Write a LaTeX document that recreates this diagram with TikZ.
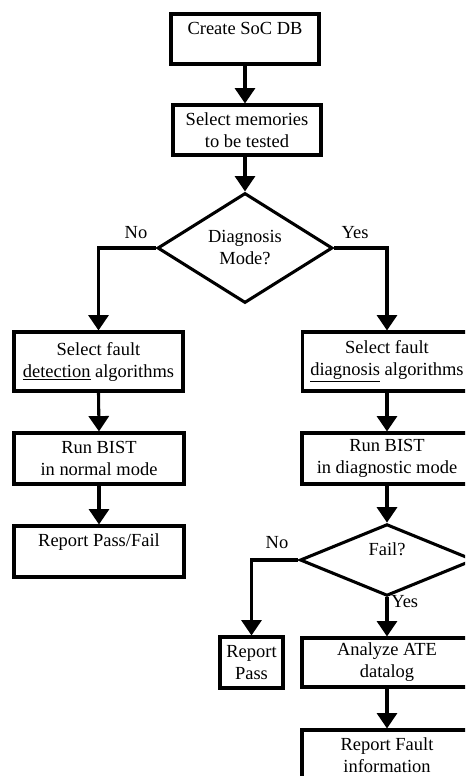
\documentclass[tikz,border=0pt]{standalone}
\usepackage{fontspec}
\setmainfont{Liberation Serif}
\usetikzlibrary{shapes.geometric,arrows.meta}
\begin{document}
\begin{tikzpicture}[x=0.65pt,y=-0.65pt,
  every node/.style={font=\fontsize{12}{14.3}\selectfont},
  box/.style={draw,line width=2pt,rectangle,align=center,inner sep=0pt},
  dec/.style={draw,line width=2pt,diamond,align=center,inner sep=0pt},
  lbl/.style={inner sep=0pt},
  arr/.style={line width=2pt,-{Triangle[width=13pt,length=10pt]}}]
\useasboundingbox (0,0) rectangle (465,776);
\clip (0,0) rectangle (465,776);

% main column
\node[box,minimum width=148*0.65pt,minimum height=50*0.65pt] (b1) at (245,39) {Create SoC DB\\\mbox{}};
\node[box,minimum width=148*0.65pt,minimum height=50*0.65pt] (b2) at (247,130) {Select memories\\to be tested};
\node[dec,minimum width=175*0.65pt,minimum height=110*0.65pt] (d1) at (245,248) {Diagnosis\\Mode?};

% detection branch
\node[box,minimum width=169*0.65pt,minimum height=59*0.65pt] (b3) at (98.5,361.5) {Select fault\\\underline{detection} algorithms};
\node[box,minimum width=170*0.65pt,minimum height=51*0.65pt] (b5) at (99,458.5) {Run BIST\\in normal mode};
\node[box,minimum width=170*0.65pt,minimum height=51*0.65pt] (b6) at (99,551.5) {Report Pass/Fail\\\mbox{}};

% diagnosis branch
\node[box,minimum width=169*0.65pt,minimum height=59*0.65pt] (b4) at (387,361.5) {Select fault\\\underline{diagnosis} algorithms};
\node[box,minimum width=170*0.65pt,minimum height=51*0.65pt] (b7) at (387,458.5) {Run BIST\\in diagnostic mode};
\node[dec,minimum width=174*0.65pt,minimum height=66*0.65pt] (d2) at (387,560) {Fail?\\\mbox{}};
\node[box,minimum width=63*0.65pt,minimum height=51*0.65pt] (b8) at (251.5,662.5) {Report\\Pass};
\node[box,minimum width=170*0.65pt,minimum height=49*0.65pt] (b9) at (387,662.5) {Analyze ATE\\datalog};
\node[box,minimum width=170*0.65pt,minimum height=50*0.65pt] (b10) at (387,755) {Report Fault\\information};

% branch labels
\node[lbl] (n1) at (136,233) {No};
\node[lbl] (y1) at (355,233) {Yes};
\node[lbl] (n2) at (277,543) {No};
\node[lbl,anchor=west] (y2) at (391,602) {Yes};

% connectors
\draw[arr] (b1.south) -- (b1.south |- b2.north);
\draw[arr] (b2.south -| d1.north) -- (d1.north);
\draw[arr] (d1.west) -| (b3.north);
\draw[arr] (d1.east) -| (b4.north);
\draw[arr] (b3.south) -- (b5.north);
\draw[arr] (b5.south) -- (b6.north);
\draw[arr] (b4.south) -- (b7.north);
\draw[arr] (b7.south) -- (d2.north);
\draw[arr] (d2.west) -| (b8.north);
\draw[arr] (d2.south) -- (b9.north);
\draw[arr] (b9.south) -- (b10.north);
\end{tikzpicture}
\end{document}
